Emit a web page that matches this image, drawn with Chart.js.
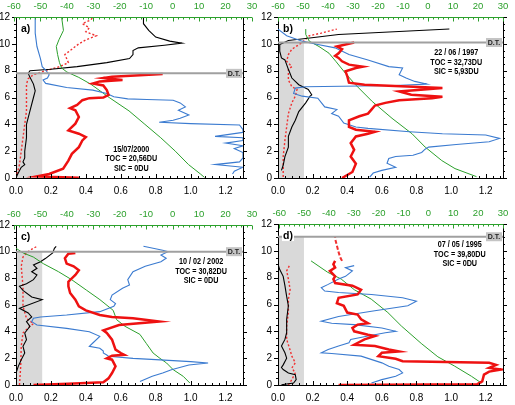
<!DOCTYPE html>
<html>
<head>
<meta charset="utf-8">
<script src="https://cdn.jsdelivr.net/npm/chart.js@4.4.1/dist/chart.umd.min.js"></script>
<style>
  html, body { margin: 0; padding: 0; background: #fff; }
  body { width: 515px; height: 405px; position: relative; overflow: hidden; }
  canvas { position: absolute; }
</style>
</head>
<body>
<canvas id="ca" width="269" height="197" style="left:-10px;top:-1px"></canvas>
<canvas id="cb" width="267" height="197" style="left:252px;top:-1px"></canvas>
<canvas id="cc" width="269" height="196" style="left:-10px;top:207px"></canvas>
<canvas id="cd" width="267" height="197" style="left:252px;top:206px"></canvas>
<script>
// ---- panel a) 15/07/2000 ----
const aBlackAlt = [0, 0.3, 0.8, 1.0, 1.2, 1.5, 2, 3, 4, 5, 6, 6.5, 7, 7.5, 7.8, 8.0, 8.1, 8.3, 8.6, 8.9, 9.2, 9.5, 9.7, 9.9, 10.05, 10.2, 10.5, 11, 11.5, 12];
const aBlackVal = [0.0, 0.01, 0.03, 0.05, 0.04, 0.05, 0.05, 0.06, 0.06, 0.08, 0.1, 0.11, 0.1, 0.08, 0.07, 0.08, 0.2, 0.35, 0.52, 0.65, 0.67, 0.67, 0.7, 0.85, 0.95, 0.88, 0.8, 0.76, 0.73, 0.73];
const aDotAlt = [0, 0.5, 1, 2, 3, 4, 5, 6, 6.5, 7, 7.4, 7.7, 8.0, 8.3, 8.6, 8.9, 9.2, 9.6, 10.0, 10.3, 10.6, 10.9, 11.2, 11.5, 11.8, 12];
const aDotVal = [0.0, 0.01, 0.02, 0.03, 0.04, 0.05, 0.06, 0.06, 0.06, 0.06, 0.07, 0.1, 0.17, 0.25, 0.3, 0.29, 0.28, 0.32, 0.36, 0.4, 0.46, 0.4, 0.42, 0.38, 0.43, 0.44];
const aBlueAlt = [12, 10.8, 9.8, 8.9, 8.3, 8.05, 7.7, 7.45, 7.3, 7.05, 6.75, 6.55, 6.3, 6.05, 5.9, 5.85, 5.8, 5.6, 5.3, 5.05, 4.7, 4.45, 4.3, 4.15, 4.05, 3.95, 3.6, 3.4, 3.1, 3.0, 2.8, 2.6, 2.4, 2.2, 1.9, 1.5, 1.2, 1.0, 0.8, 0.5, 0.3];
const aBlueVal = [0.11, 0.11, 0.12, 0.14, 0.15, 0.17, 0.19, 0.18, 0.155, 0.17, 0.29, 0.44, 0.52, 0.56, 0.64, 0.75, 0.9, 0.94, 0.97, 0.93, 0.99, 0.94, 0.9, 0.82, 1.0, 1.28, 1.3, 1.3, 1.14, 1.3, 1.3, 1.2, 1.3, 1.25, 1.3, 1.3, 1.28, 1.14, 1.3, 1.25, 1.24];
const aGreenAlt = [0.05, 0.3, 1, 2, 3, 4, 5, 6, 7, 7.5, 7.9, 8.2, 8.6, 9.2, 9.8, 10.3, 11, 12];
const aGreenT = [12, 10.5, 6, 1, -4.5, -10.5, -16.5, -24, -31, -35.5, -40, -42, -42.8, -43.5, -44, -43, -41.3, -42];
const aRedAlt = [0.02, 0.08, 0.12, 0.3, 0.7, 1.3, 1.8, 2.3, 2.8, 3.05, 3.3, 3.55, 4.05, 4.55, 5.05, 5.2, 5.45, 5.8, 5.95, 6.0, 6.2, 6.55, 6.9, 7.05, 7.2, 7.3, 7.45, 7.55, 7.75];
const aRedVal = [0.36, 0.22, 0.12, 0.19, 0.27, 0.3, 0.32, 0.36, 0.38, 0.4, 0.36, 0.3, 0.34, 0.36, 0.34, 0.31, 0.35, 0.38, 0.42, 0.5, 0.53, 0.52, 0.5, 0.44, 0.48, 0.61, 0.5, 0.55, 0.84];

// ---- panel b) 22/06/1997 ----
const bBlackAlt = [0.57, 0.95, 1.6, 2.3, 3.1, 3.8, 4.3, 4.95, 5.6, 6.1, 6.2, 6.6, 6.95, 7.45, 8.1, 8.45, 8.8, 8.95, 9.45, 9.95, 10.25, 10.4, 10.7, 11.1];
const bBlackVal = [0.02, 0.03, 0.04, 0.06, 0.06, 0.08, 0.1, 0.12, 0.16, 0.185, 0.195, 0.175, 0.12, 0.08, 0.06, 0.05, 0.04, 0.02, 0.01, 0.01, 0.06, 0.16, 0.35, 0.99];
const bDotAlt = [0.07, 1.6, 2.8, 3.8, 4.8, 5.6, 6.1, 6.6, 6.8, 7.3, 8.1, 8.3, 8.7, 9.2, 9.6, 10.1, 10.6, 10.8, 11.1];
const bDotVal = [0.03, 0.03, 0.04, 0.05, 0.06, 0.08, 0.1, 0.11, 0.08, 0.06, 0.06, 0.08, 0.05, 0.06, 0.08, 0.14, 0.18, 0.25, 0.34];
const bBlueAlt = [11.1, 10.6, 10.2, 9.95, 9.7, 9.2, 8.8, 8.3, 8.2, 7.7, 7.45, 7.2, 7.0, 6.9, 6.8, 6.7, 6.3, 6.1, 5.95, 5.3, 5.1, 4.8, 4.6, 4.1, 3.8, 3.7, 3.45, 3.3, 3.2, 2.95, 2.7, 2.5, 2.3, 2.15, 1.9, 1.7, 1.6, 1.45, 1.1, 0.8, 0.57, 0.37, 0.07];
const bBlueVal = [0.0, 0.05, 0.14, 0.23, 0.33, 0.41, 0.52, 0.64, 0.72, 0.7, 0.74, 0.79, 0.86, 0.68, 0.16, 0.1, 0.09, 0.14, 0.23, 0.27, 0.34, 0.31, 0.35, 0.38, 0.45, 0.52, 0.76, 0.95, 1.2, 1.28, 1.22, 1.03, 0.87, 0.85, 0.83, 0.78, 0.68, 0.64, 0.63, 0.68, 0.6, 0.55, 0.53];
const bGreenAlt = [0.1, 0.7, 1.3, 2.3, 3.3, 4.45, 5.7, 6.95, 7.8, 8.7, 9.3, 9.8, 10.2, 10.7, 11.1];
const bGreenT = [19.4, 10.8, 5.5, -1.1, -6.4, -14.4, -22.3, -29, -33, -36.9, -39.6, -43.6, -47.5, -48.9, -48.9];
const bRedAlt = [0, 0.45, 1.07, 1.6, 2.1, 2.6, 3.1, 3.3, 3.45, 3.6, 3.8, 4.3, 4.6, 4.8, 5.1, 5.4, 5.6, 5.8, 5.95, 6.05, 6.2, 6.45, 6.7, 6.8, 6.95, 7.1, 7.6, 7.95, 8.2, 8.3, 8.45, 8.7, 8.95, 9.1, 9.3, 9.6, 9.8, 9.95, 10.1];
const bRedVal = [0.37, 0.43, 0.45, 0.42, 0.44, 0.42, 0.45, 0.52, 0.56, 0.45, 0.41, 0.41, 0.47, 0.52, 0.54, 0.56, 0.62, 0.7, 0.89, 0.95, 0.77, 0.7, 0.95, 0.78, 0.5, 0.41, 0.4, 0.39, 0.45, 0.49, 0.41, 0.37, 0.35, 0.33, 0.35, 0.37, 0.34, 0.39, 0.44];

// ---- panel c) 10/02/2002 ----
const cBlackAlt = [0.9, 1.4, 1.9, 2.4, 2.9, 3.4, 3.9, 4.4, 4.76, 5.1, 5.4, 5.75, 5.9, 6.4, 6.6, 7.1, 7.4, 7.6, 7.9, 8.25, 8.5, 8.75, 9.0, 9.25, 9.5, 9.9, 10.25, 10.4];
const cBlackVal = [0.0, 0.013, 0.03, 0.05, 0.04, 0.06, 0.05, 0.08, 0.06, 0.09, 0.07, 0.02, 0.05, 0.15, 0.09, 0.04, 0.02, 0.06, 0.1, 0.12, 0.09, 0.12, 0.1, 0.14, 0.17, 0.21, 0.22, 0.23];
const cDotAlt = [0, 1.4, 2.9, 3.9, 4.4, 4.6, 5.0, 5.9, 7.4, 8.9, 9.6, 9.9, 10.1, 10.4];
const cDotVal = [0.02, 0.027, 0.03, 0.04, 0.08, 0.1, 0.06, 0.04, 0.04, 0.03, 0.04, 0.06, 0.08, 0.12];
const cBlueAlt = [10.4, 10.1, 10.0, 9.75, 9.5, 9.25, 8.9, 8.5, 7.9, 7.5, 7.25, 6.75, 6.4, 6.1, 5.9, 5.5, 5.25, 5.1, 5.0, 4.75, 4.5, 4.25, 4.0, 3.65, 3.15, 2.9, 2.75, 2.55, 2.4, 2.25, 2.15, 2.0, 1.9, 1.75, 1.65, 1.5, 1.15, 0.9, 0.65, 0.27];
const cBlueVal = [0.73, 0.84, 0.87, 0.83, 0.86, 0.83, 0.74, 0.67, 0.64, 0.65, 0.61, 0.55, 0.54, 0.57, 0.56, 0.48, 0.29, 0.14, 0.1, 0.09, 0.12, 0.29, 0.42, 0.48, 0.44, 0.42, 0.48, 0.5, 0.5, 0.52, 0.53, 0.67, 0.8, 1.0, 1.1, 0.99, 0.89, 0.84, 0.78, 0.71];
const cGreenAlt = [0.15, 0.65, 1.15, 1.65, 2.0, 2.4, 3.1, 3.8, 4.4, 4.9, 5.6, 6.4, 7.1, 7.9, 8.5, 9.1, 9.6, 9.9, 10.3];
const cGreenT = [6.5, 4, 0.2, -2.3, -4.8, -7.4, -9.9, -12.4, -18, -21.2, -22.5, -27.5, -32.5, -38.2, -43.2, -48.9, -52.7, -56.5, -59.6];
const cRedAlt = [0.0, 0.1, 0.2, 0.5, 0.9, 1.4, 1.9, 2.0, 2.2, 2.27, 2.4, 2.65, 3.4, 3.9, 4.1, 4.5, 4.76, 5.0, 5.1, 5.25, 5.6, 5.9, 6.4, 6.9, 7.4, 7.75, 8.25, 8.6, 8.9, 9.1, 9.5, 9.85, 9.9];
const cRedVal = [0.1, 0.3, 0.5, 0.53, 0.55, 0.57, 0.55, 0.52, 0.55, 0.62, 0.6, 0.57, 0.55, 0.52, 0.5, 0.59, 0.82, 0.67, 0.55, 0.48, 0.4, 0.36, 0.34, 0.31, 0.3, 0.3, 0.34, 0.36, 0.33, 0.29, 0.28, 0.3, 0.34];

// ---- panel d) 07/05/1995 ----
const dBlackAlt = [0.02, 0.15, 0.4, 0.77, 0.9, 1.15, 1.3, 1.5, 2.0, 2.4, 2.9, 3.4, 3.9, 4.9, 5.9, 6.6, 7.4, 8.1, 8.6, 9.0];
const dBlackVal = [0.02, 0.09, 0.105, 0.1, 0.06, 0.03, 0.02, 0.03, 0.05, 0.04, 0.02, 0.04, 0.05, 0.05, 0.06, 0.05, 0.04, 0.03, 0.01, 0.0];
const dDotAlt = [0, 0.4, 0.9, 1.27, 1.65, 2.15, 2.6, 3.4, 4.4, 5.4, 6.4, 7.1, 7.9, 8.5, 9.0];
const dDotVal = [0.06, 0.08, 0.1, 0.08, 0.1, 0.08, 0.07, 0.05, 0.05, 0.06, 0.06, 0.07, 0.06, 0.05, 0.07];
const dDashAlt = [9.25, 9.5, 9.9, 10.4, 10.9, 11.05];
const dDashVal = [0.37, 0.36, 0.35, 0.34, 0.33, 0.33];
const dBlueAlt = [8.9, 8.75, 8.5, 8.1, 7.9, 7.5, 7.25, 7.0, 6.9, 6.75, 6.5, 6.25, 5.9, 5.5, 5.1, 4.75, 4.6, 4.5, 4.25, 4.0, 3.9, 3.65, 3.4, 3.15, 2.9, 2.65, 2.4, 2.35, 2.15, 1.65, 1.4, 1.15, 0.9, 0.65, 0.4, 0.15];
const dBlueVal = [0.44, 0.39, 0.43, 0.39, 0.35, 0.29, 0.25, 0.27, 0.35, 0.54, 0.72, 0.8, 0.75, 0.54, 0.35, 0.25, 0.31, 0.44, 0.6, 0.68, 0.62, 0.52, 0.42, 0.41, 0.35, 0.29, 0.25, 0.31, 0.48, 0.6, 0.64, 0.7, 0.72, 0.68, 0.6, 0.54];
const dGreenAlt = [0.15, 0.65, 1.4, 2.1, 3.1, 4.4, 5.4, 6.4, 7.1, 7.9, 8.4, 9.25];
const dGreenT = [21.3, 17.3, 10.6, 3.8, -2.9, -10.9, -16.3, -23, -29.8, -35.1, -40.5, -47.2];
const dRedAlt = [0.0, 0.05, 0.27, 0.77, 1.0, 1.15, 1.27, 1.5, 1.65, 1.77, 1.95, 2.15, 2.4, 2.5, 2.65, 2.9, 3.0, 3.4, 3.65, 3.75, 4.0, 4.25, 4.5, 4.6, 4.9, 5.25, 5.4, 5.9, 6.1, 6.5, 6.75, 7.1, 7.4, 7.6, 7.9, 8.1, 8.5, 8.75, 9.0, 9.25];
const dRedVal = [0.35, 1.15, 1.18, 1.19, 1.22, 1.29, 1.22, 1.26, 1.22, 0.72, 0.68, 0.58, 0.6, 0.7, 0.64, 0.56, 0.44, 0.5, 0.56, 0.52, 0.44, 0.43, 0.46, 0.52, 0.48, 0.46, 0.4, 0.38, 0.34, 0.35, 0.46, 0.48, 0.43, 0.33, 0.32, 0.33, 0.3, 0.33, 0.32, 0.33];

// axis ticks
const bottomTicks = [0, 0.2, 0.4, 0.6, 0.8, 1.0, 1.2];
const tempTicks = [-60, -50, -40, -30, -20, -10, 0, 10, 20, 30];

const FONT = '"Liberation Sans", Arial, sans-serif';
const GREEN = '#2ca02c';
const BLUE = '#3b7bd0';
const RED = '#ee1111';

function pts(alt, val) {
  return alt.map((a, i) => ({ x: val[i], y: a }));
}

function line(data, color, width, axis, dash) {
  return {
    data: data,
    borderColor: color,
    borderWidth: width,
    borderDash: dash || [],
    showLine: true,
    pointRadius: 0,
    tension: 0,
    xAxisID: axis || 'x'
  };
}

const deco = {
  id: 'deco',
  beforeDraw(chart, args, o) {
    const { ctx, scales: { x, y } } = chart;
    const x0 = x.getPixelForValue(0), x1 = x.getPixelForValue(0.15);
    const y0 = y.getPixelForValue(0), y1 = y.getPixelForValue(o.dt);
    ctx.save();
    ctx.fillStyle = '#d9d9d9';
    ctx.fillRect(x0, y1, x1 - x0, y0 - y1);
    ctx.restore();
  },
  afterDraw(chart, args, o) {
    const { ctx, chartArea: a, scales: { x, y, x2 } } = chart;
    ctx.save();

    // tropopause line + tag
    const yd = y.getPixelForValue(o.dt);
    ctx.strokeStyle = '#a0a0a0';
    ctx.lineWidth = 2;
    ctx.beginPath();
    ctx.moveTo(a.left, yd);
    ctx.lineTo(a.right, yd);
    ctx.stroke();
    ctx.fillStyle = '#c4c4c4';
    ctx.fillRect(a.right - 17, yd - 4.5, 16, 9);
    ctx.fillStyle = '#222';
    ctx.font = 'bold 7px ' + FONT;
    ctx.textAlign = 'center';
    ctx.textBaseline = 'middle';
    ctx.fillText('D.T.', a.right - 9, yd + 0.5);

    // frame ticks
    ctx.strokeStyle = '#000';
    ctx.lineWidth = 1;
    ctx.beginPath();
    ctx.moveTo(a.right + 0.5, a.top);
    ctx.lineTo(a.right + 0.5, a.bottom);
    for (let i = 0; i <= 24; i++) {
      const py = Math.round(y.getPixelForValue(i / 2)) + 0.5;
      const len = i % 4 === 0 ? 4 : 2;
      ctx.moveTo(a.left - len, py); ctx.lineTo(a.left, py);
      ctx.moveTo(a.right, py); ctx.lineTo(a.right + len, py);
    }
    for (let i = 0; i <= 32; i++) {
      const px = Math.round(x.getPixelForValue(i * 0.04)) + 0.5;
      const len = i % 5 === 0 ? 4 : 2;
      ctx.moveTo(px, a.bottom); ctx.lineTo(px, a.bottom - len);
    }
    ctx.stroke();

    // temperature axis on top
    ctx.strokeStyle = GREEN;
    ctx.beginPath();
    const ty = Math.round(a.top) + 0.5;
    ctx.moveTo(x2.getPixelForValue(-60), ty);
    ctx.lineTo(x2.getPixelForValue(30), ty);
    for (let v = -60; v <= 30; v += 2) {
      const px = Math.round(x2.getPixelForValue(v)) + 0.5;
      const len = v % 10 === 0 ? 4 : 2;
      ctx.moveTo(px, ty); ctx.lineTo(px, ty + len);
    }
    ctx.stroke();
    ctx.fillStyle = GREEN;
    ctx.font = '9.5px ' + FONT;
    ctx.textAlign = 'center';
    ctx.textBaseline = 'middle';
    tempTicks.forEach(v => ctx.fillText(String(v), x2.getPixelForValue(v), a.top - 11));

    // sounding info
    ctx.fillStyle = '#000';
    ctx.font = 'bold 9.5px ' + FONT;
    o.note.forEach((s, i) => {
      ctx.save();
      ctx.translate(x.getPixelForValue(o.noteX), y.getPixelForValue(o.noteY[i]));
      ctx.scale(0.76, 1);
      ctx.fillText(s, 0, 0);
      ctx.restore();
    });

    // panel letter
    ctx.font = 'bold 10.5px ' + FONT;
    ctx.textAlign = 'left';
    const ly = y.getPixelForValue(11.1);
    if (o.tagBg) {
      ctx.fillStyle = '#fff';
      ctx.fillRect(a.left + 4, ly - 5, 12, 10);
      ctx.fillStyle = '#000';
    }
    ctx.fillText(o.tag, a.left + 5, ly);
    ctx.restore();
  }
};

function makePanel(id, p) {
  const datasets = [
    line(pts(p.red[0], p.red[1]), RED, 2.5),
    line(pts(p.blue[0], p.blue[1]), BLUE, 1.1),
    line(pts(p.green[0], p.green[1]), GREEN, 1, 'x2'),
    line(pts(p.black[0], p.black[1]), '#000', 1.1),
    line(pts(p.dot[0], p.dot[1]), '#f03030', 1.4, 'x', [2, 2])
  ];
  if (p.dash) datasets.push(line(pts(p.dash[0], p.dash[1]), '#f03030', 2, 'x', [4, 2]));

  new Chart(document.getElementById(id), {
    type: 'scatter',
    data: { datasets: datasets },
    options: {
      responsive: false,
      animation: false,
      layout: { padding: { top: 18, right: 16, left: 0, bottom: 0 } },
      plugins: {
        legend: { display: false },
        tooltip: { enabled: false },
        deco: p.deco
      },
      scales: {
        x: {
          type: 'linear', position: 'bottom', min: 0, max: 1.3,
          afterBuildTicks: s => { s.ticks = bottomTicks.map(v => ({ value: v })); },
          afterFit: s => { s.height = 18; },
          ticks: {
            color: '#000', padding: 7, autoSkip: false, maxRotation: 0,
            font: { family: FONT, size: 10 }, callback: v => Number(v).toFixed(1)
          },
          grid: { drawOnChartArea: false, drawTicks: false },
          border: { color: '#000', width: 1 }
        },
        x2: { type: 'linear', position: 'top', display: false, min: p.tMin, max: p.tMax },
        y: {
          min: 0, max: 12,
          afterFit: s => { s.width = 26; },
          ticks: { stepSize: 2, autoSkip: false, color: '#000', padding: 6, font: { family: FONT, size: 10 } },
          grid: { drawOnChartArea: false, drawTicks: false },
          border: { color: '#000', width: 1 }
        }
      }
    },
    plugins: [deco]
  });
}

makePanel('ca', {
  red: [aRedAlt, aRedVal], blue: [aBlueAlt, aBlueVal], green: [aGreenAlt, aGreenT],
  black: [aBlackAlt, aBlackVal], dot: [aDotAlt, aDotVal], tMin: -59.24, tMax: 26.6,
  deco: { dt: 7.8, tag: 'a)', note: ['15/07/2000', 'TOC = 20,56DU', 'SIC = 0DU'], noteX: 0.66, noteY: [2.14, 1.45, 0.75] }
});
makePanel('cb', {
  red: [bRedAlt, bRedVal], blue: [bBlueAlt, bBlueVal], green: [bGreenAlt, bGreenT],
  black: [bBlackAlt, bBlackVal], dot: [bDotAlt, bDotVal], tMin: -60, tMax: 30,
  deco: { dt: 10.1, tag: 'b)', note: ['22 / 06 / 1997', 'TOC = 32,73DU', 'SIC = 5,93DU'], noteX: 1.03, noteY: [9.33, 8.65, 7.97] }
});
makePanel('cc', {
  red: [cRedAlt, cRedVal], blue: [cBlueAlt, cBlueVal], green: [cGreenAlt, cGreenT],
  black: [cBlackAlt, cBlackVal], dot: [cDotAlt, cDotVal], tMin: -59.24, tMax: 26.6,
  deco: { dt: 10.0, tag: 'c)', note: ['10 / 02 / 2002', 'TOC = 30,82DU', 'SIC = 0DU'], noteX: 1.06, noteY: [9.25, 8.55, 7.85] }
});
makePanel('cd', {
  red: [dRedAlt, dRedVal], blue: [dBlueAlt, dBlueVal], green: [dGreenAlt, dGreenT],
  black: [dBlackAlt, dBlackVal], dot: [dDotAlt, dDotVal], dash: [dDashAlt, dDashVal], tMin: -60.5, tMax: 30,
  deco: { dt: 11.05, tag: 'd)', tagBg: true, note: ['07 / 05 / 1995', 'TOC = 39,80DU', 'SIC = 0DU'], noteX: 1.05, noteY: [10.45, 9.75, 9.05] }
});
</script>
</body>
</html>
